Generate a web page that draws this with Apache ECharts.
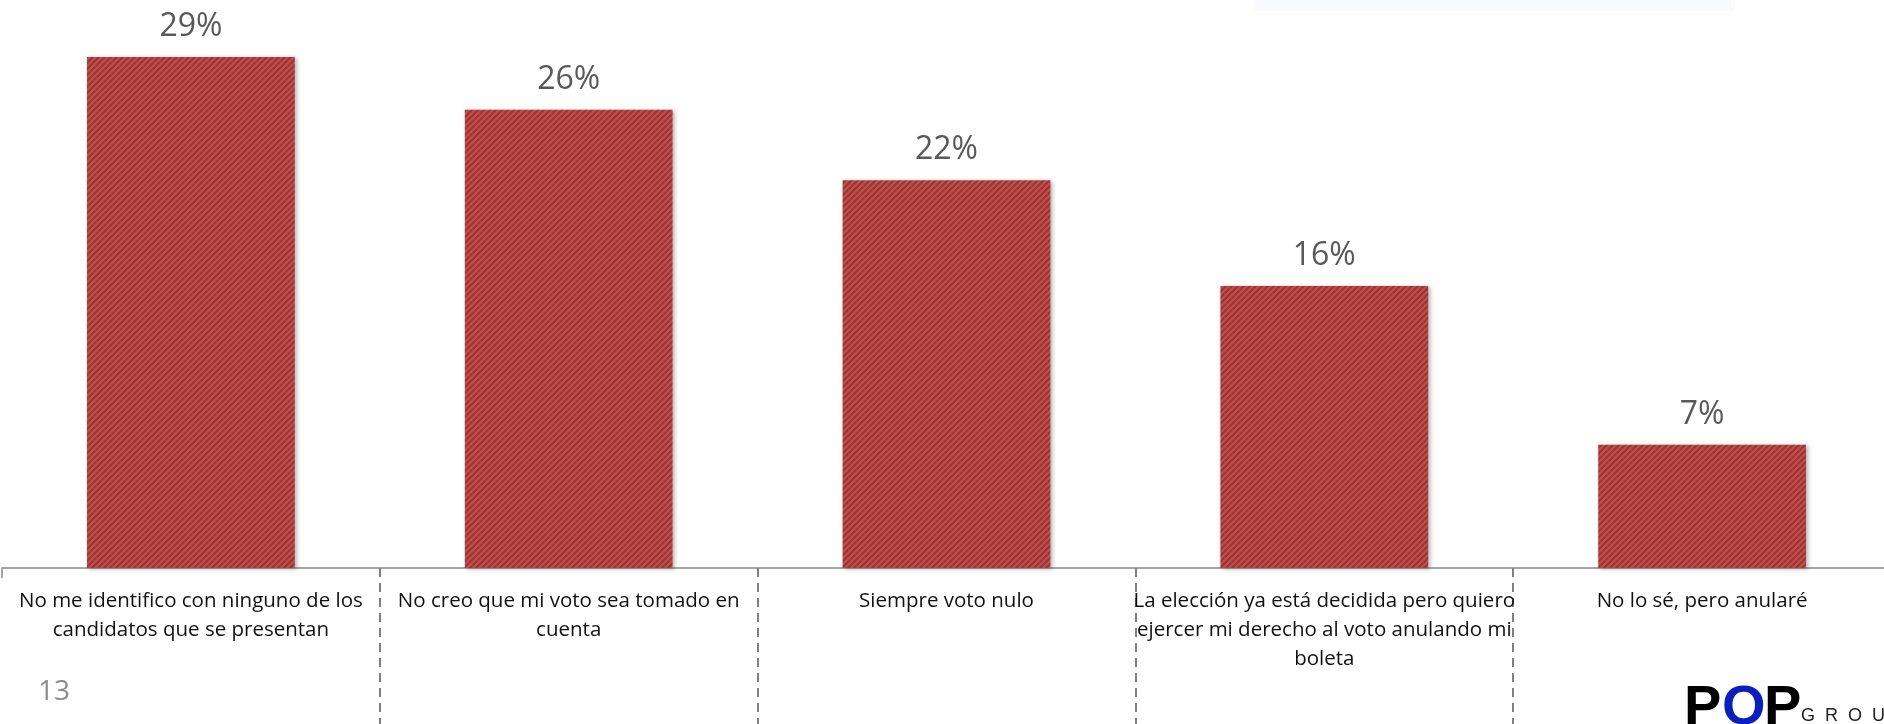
<!DOCTYPE html>
<html>
<head>
<meta charset="utf-8">
<script src="https://cdn.jsdelivr.net/npm/echarts@6/dist/echarts.min.js"></script>
<style>
    html, body { margin: 0; padding: 0; background: #ffffff; }
    #chart { width: 1884px; height: 724px; }
</style>
</head>
<body>
<div id="chart"></div>
<script>
    // categories and values
    var categories = [
        'No me identifico con ninguno de los\ncandidatos que se presentan',
        'No creo que mi voto sea tomado en\ncuenta',
        'Siempre voto nulo',
        'La elección ya está decidida pero quiero\nejercer mi derecho al voto anulando mi\nboleta',
        'No lo sé, pero anularé'
    ];
    var values = [29, 26, 22, 16, 7];

    // striped fill like the original bars
    function makeStripes() {
        var c = document.createElement('canvas');
        c.width = 6;
        c.height = 6;
        var ctx = c.getContext('2d');
        ctx.fillStyle = '#c24f4c';
        ctx.fillRect(0, 0, 6, 6);
        ctx.strokeStyle = '#9a3533';
        ctx.lineWidth = 2;
        ctx.beginPath();
        ctx.moveTo(-1, 7); ctx.lineTo(7, -1);
        ctx.moveTo(-4, 4); ctx.lineTo(4, -4);
        ctx.moveTo(2, 10); ctx.lineTo(10, 2);
        ctx.stroke();
        return c;
    }

    var chart = echarts.init(document.getElementById('chart'));
    var option = {
        animation: false,
        grid: { left: 2, right: -7, top: 4, bottom: 156, containLabel: false, outerBoundsMode: 'none' },
        xAxis: {
            type: 'category',
            data: categories,
            axisLine: { lineStyle: { color: '#a6a6a6', width: 2 } },
            axisTick: {
                show: true,
                length: 160,
                // the left edge only has a short tick in the original
                interval: function (index) { return index > 0; },
                lineStyle: { color: '#808080', width: 2, type: [9, 6] }
            },
            axisLabel: {
                interval: 0,
                margin: 19,
                color: '#111111',
                fontFamily: 'Open Sans',
                fontSize: 20.5,
                lineHeight: 29
            }
        },
        yAxis: {
            type: 'value',
            min: 0,
            max: 32,
            show: false,
            splitLine: { show: false }
        },
        series: [{
            type: 'bar',
            data: values,
            barWidth: '55%',
            itemStyle: {
                color: { image: makeStripes(), repeat: 'repeat' },
                shadowColor: 'rgba(0,0,0,0.3)',
                shadowBlur: 4,
                shadowOffsetX: 2,
                shadowOffsetY: 1
            },
            label: {
                show: true,
                position: 'top',
                distance: 14,
                color: '#595959',
                fontFamily: 'Open Sans',
                fontSize: 32,
                formatter: '{c}%'
            }
        }],
        graphic: [
            // faint box top right
            { type: 'rect', shape: { x: 1255, y: 0, width: 480, height: 11 }, style: { fill: '#f9fafd' } },
            // short tick at the left end of the axis
            { type: 'line', shape: { x1: 2, y1: 568, x2: 2, y2: 578 }, style: { stroke: '#a6a6a6', lineWidth: 2 } },
            // page number
            { type: 'text', left: 38, top: 678, style: { text: '13', fill: '#8c8c8c', font: '28px "Open Sans"' } },
            // logo
            { type: 'text', left: 1684, top: 681, style: { text: 'P', fill: '#000000', font: 'bold 56px "Liberation Sans"' } },
            { type: 'text', left: 1722, top: 681, style: { text: 'O', fill: '#0a1fbf', font: 'bold 56px "Liberation Sans"' } },
            { type: 'text', left: 1764, top: 681, style: { text: 'P', fill: '#000000', font: 'bold 56px "Liberation Sans"' } },
            { type: 'text', left: 1801, top: 707, style: { text: 'G  R  O  U  P', fill: '#222222', font: '18px "Liberation Sans"' } }
        ]
    };
    chart.setOption(option);
</script>
</body>
</html>
